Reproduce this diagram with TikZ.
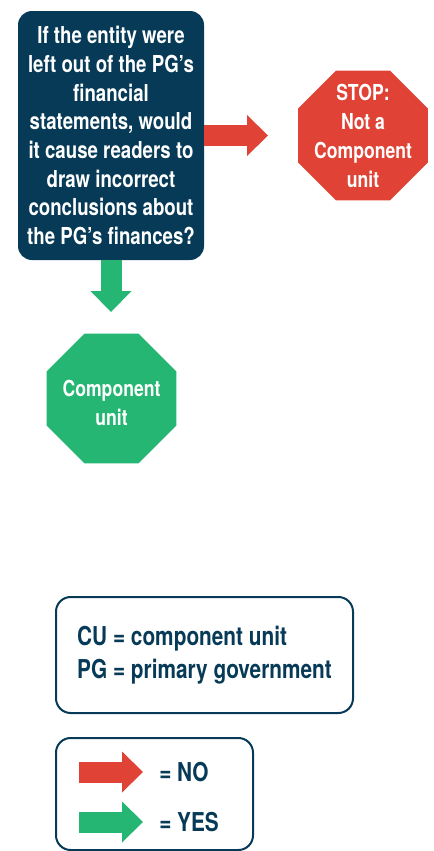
\documentclass[tikz,border=0pt]{standalone}
\usepackage{fontspec}
\setmainfont{TeX Gyre Heros}[FakeStretch=0.8]
\usetikzlibrary{arrows.meta, shapes.geometric}
\definecolor{pgnavy}{RGB}{6,58,87}
\definecolor{nored}{RGB}{224,67,54}
\definecolor{yesgreen}{RGB}{38,182,116}

\begin{document}
\begin{tikzpicture}[x=0.75pt, y=-0.75pt,
    question/.style={fill=pgnavy, text=white, rounded corners=10.5pt,
      minimum width=139.5pt, minimum height=186.75pt, align=center,
      font=\bfseries\fontsize{17.5}{21.5}\selectfont},
    octagon/.style={regular polygon, regular polygon sides=8,
      minimum size=105.5pt, inner sep=0pt},
    octtext/.style={text=white, align=center,
      font=\bfseries\fontsize{16.5}{21.75}\selectfont},
    legbox/.style={draw=pgnavy, line width=1.5pt, rounded corners=11pt,
      text=pgnavy, font=\bfseries\fontsize{19.5}{24.75}\selectfont},
    legtext/.style={text=pgnavy, inner sep=0pt, anchor=west,
      font=\bfseries\fontsize{19.5}{24.75}\selectfont},
    blockarrow/.style={line width=15.75pt,
      -{Triangle[width=30.75pt, length=15.75pt, line width=0pt]}},
  ]
  \useasboundingbox (0,0) rectangle (434,851);

  \coordinate (q) at (111,135.5);
  \coordinate (s) at (363,135.5);
  \coordinate (c) at (111.5,398.5);
  \coordinate (noTip) at (268,135.5);
  \coordinate (yesTip) at (111,312);

  \node[question] (ask) at (q) {If the entity were\\left out of the PG’s\\financial\\statements, would\\it cause readers to\\draw incorrect\\conclusions about\\the PG’s finances?};

  \node[octagon, fill=nored] (stop) at (s) {};
  \node[octtext] at (stop) {STOP:\\Not a\\Component\\unit};
  \node[octagon, fill=yesgreen] (cu) at (c) {};
  \node[octtext] at ([yshift=-3pt]cu.center) {Component\\unit};

  \draw[blockarrow, nored] (ask.east) -- (noTip);
  \draw[blockarrow, yesgreen] (ask.south) -- (yesTip);

  % legend
  \node[legbox, minimum width=222.75pt, minimum height=87pt, align=left]
    (abbr) at (204.5,655) {CU = component unit\\PG = primary government};
  \node[legbox, minimum width=147.75pt, minimum height=84pt] (key) at (154.5,794) {};
  \coordinate (k1) at (79,772);
  \coordinate (k2) at (79,822);
  \node[legtext] (no) at (159,772) {= NO};
  \node[legtext] (yes) at (159,822) {= YES};
  \draw[blockarrow, nored, shorten >=12pt] (k1) -- (no);
  \draw[blockarrow, yesgreen, shorten >=12pt] (k2) -- (yes);
\end{tikzpicture}
\end{document}
